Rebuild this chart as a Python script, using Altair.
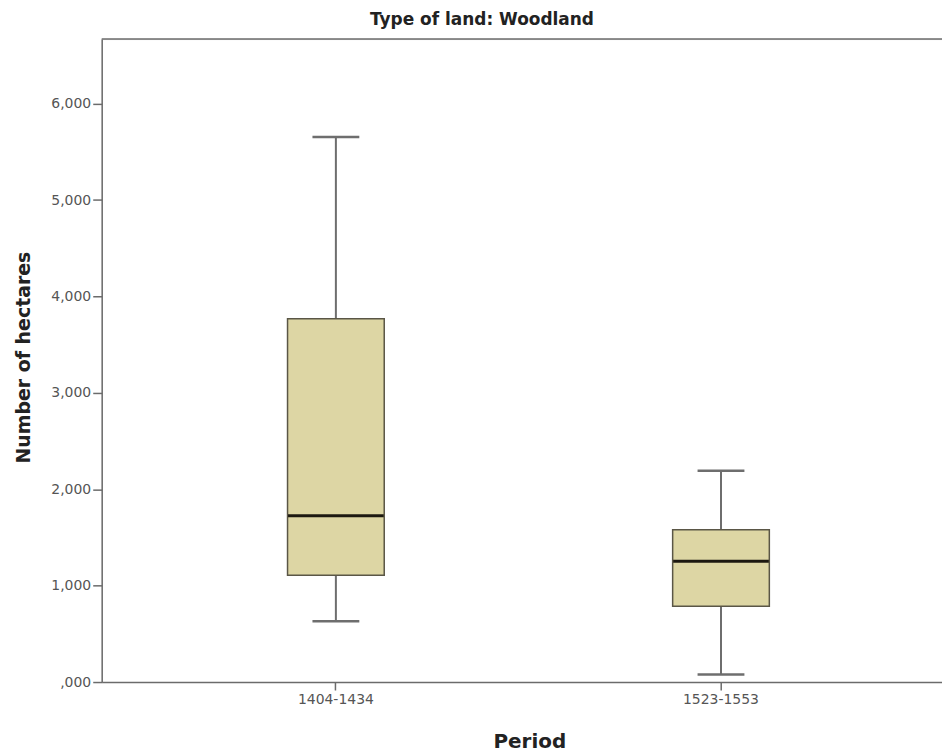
import altair as alt
import pandas as pd

# Summary statistics
periods = ["1404-1434", "1523-1553"]
whisker_low = [631, 77]
q1 = [1107, 786]
median = [1725, 1252]
q3 = [3770, 1580]
whisker_high = [5655, 2193]
y_ticks = [0, 1000, 2000, 3000, 4000, 5000, 6000]

df = pd.DataFrame({
    "Period": periods,
    "low": whisker_low,
    "q1": q1,
    "median": median,
    "q3": q3,
    "high": whisker_high,
})

FONT = "DejaVu Sans"
W, H = 843, 645

xscale = alt.Scale(domain=periods, paddingInner=0, paddingOuter=0.091, align=0.594)
yscale = alt.Scale(domain=[0, 6670], nice=False, zero=True)

xenc = alt.X(
    "Period:N", scale=xscale, sort=periods,
    axis=alt.Axis(
        title="Period", labelAngle=0, labelFontSize=14, labelColor="#555555",
        labelFont=FONT, labelPadding=3, tickSize=8, tickColor="#6b6b6b", tickWidth=1.5,
        domainColor="#6b6b6b", domainWidth=1.5,
        titleFont=FONT, titleFontSize=20, titleFontWeight="bold", titleColor="#222222",
        titleX=429, titleY=66, titleBaseline="alphabetic", titleAlign="center",
    ),
)

yaxis = alt.Axis(
    title="Number of  hectares", values=y_ticks, grid=False,
    labelExpr="datum.value == 0 ? ',000' : format(datum.value, ',')",
    labelFontSize=14, labelColor="#555555", labelFont=FONT, labelPadding=2,
    tickSize=9, tickColor="#6b6b6b", tickWidth=1.5,
    domainColor="#6b6b6b", domainWidth=1.5,
    titleFont=FONT, titleFontSize=19, titleFontWeight="bold", titleColor="#222222",
    titleX=-78, titleY=319, titleAngle=-90, titleBaseline="middle", titleAlign="center",
)

base = alt.Chart(df)

whisker = base.mark_rule(color="#6e6e6e", strokeWidth=2).encode(
    x=xenc,
    y=alt.Y("low:Q", scale=yscale, axis=yaxis),
    y2="high:Q",
)

caps_low = base.mark_tick(color="#6e6e6e", thickness=2.5, size=47, opacity=1).encode(
    x=alt.X("Period:N", scale=xscale, sort=periods),
    y=alt.Y("low:Q", scale=yscale),
)
caps_high = base.mark_tick(color="#6e6e6e", thickness=2.5, size=47, opacity=1).encode(
    x=alt.X("Period:N", scale=xscale, sort=periods),
    y=alt.Y("high:Q", scale=yscale),
)

box = base.mark_bar(size=97, fill="#ddd6a4", stroke="#5a5646", strokeWidth=1.5, opacity=1).encode(
    x=alt.X("Period:N", scale=xscale, sort=periods),
    y=alt.Y("q1:Q", scale=yscale),
    y2="q3:Q",
)

med = base.mark_tick(color="#1c1810", thickness=3, size=96, opacity=1).encode(
    x=alt.X("Period:N", scale=xscale, sort=periods),
    y=alt.Y("median:Q", scale=yscale),
)

top_border = alt.Chart(pd.DataFrame({"v": [0]})).mark_rule(
    color="#6b6b6b", strokeWidth=1.5
).encode(x=alt.value(0), x2=alt.value(W), y=alt.value(0))

chart = alt.layer(whisker, caps_low, caps_high, box, med, top_border).properties(
    width=W,
    height=H,
    title=alt.TitleParams(
        "Type of land: Woodland", font=FONT, fontSize=17, fontWeight="bold",
        color="#222222", anchor="middle", dx=-40, dy=15, offset=11, baseline="alphabetic",
    ),
    autosize=alt.AutoSizeParams(type="none"),
    padding={"left": 94, "top": 30, "right": 0, "bottom": 70},
).configure_view(stroke=None).configure(background="white")

chart.save("out.html", embed_options={"renderer": "svg", "actions": False})
